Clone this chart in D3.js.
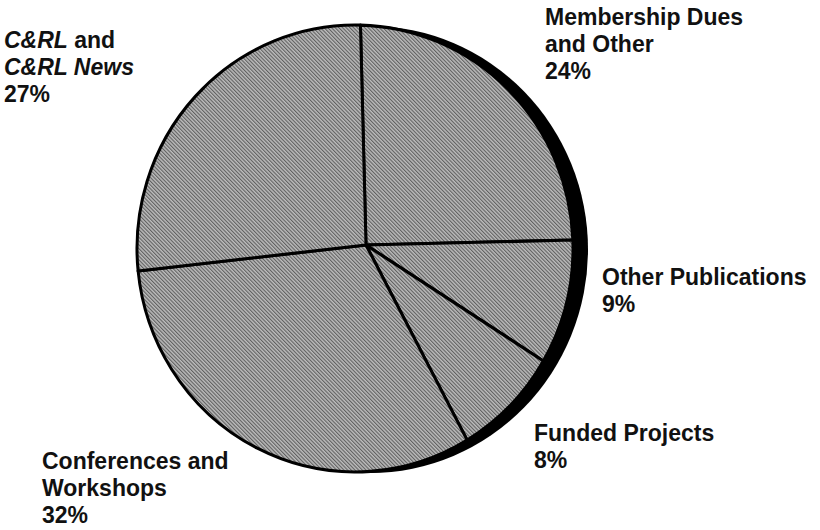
<!DOCTYPE html>
<html>
<head>
<meta charset="utf-8">
<script src="https://cdn.jsdelivr.net/npm/d3@7"></script>
<style>
  body { margin: 0; background: #fff; }
  text { font-family: "Liberation Sans", Arial, sans-serif; font-weight: bold; fill: #111; }
</style>
</head>
<body>
<svg id="chart" width="820" height="530"></svg>
<script>
// Budget shares, clockwise from 12 o'clock
const categories = ["Membership Dues and Other", "Other Publications", "Funded Projects", "Conferences and Workshops", "C&RL and C&RL News"];
const shares = [24, 9, 8, 32, 27];
// label text, one array per line, segments flagged italic
const labelLines = [
  [[{t: "Membership Dues"}], [{t: "and Other"}]],
  [[{t: "Other Publications"}]],
  [[{t: "Funded Projects"}]],
  [[{t: "Conferences and"}], [{t: "Workshops"}]],
  [[{t: "C&RL", i: true}, {t: " and"}], [{t: "C&RL News", i: true}]]
];

// layout
const cx = 355, cy = 248.5, r = 218, yStretch = 1.025;
const hub = {x: 366, y: 245};            // where the slice edges meet in the original
const shadow = {dx: 15, dy: 1};
const lineHeight = 27;
const labelPos = [
  {x: 545, y: 25}, {x: 602, y: 285}, {x: 534, y: 441}, {x: 42, y: 469}, {x: 4, y: 48}
];

const svg = d3.select("#chart");

// hatched grey fill
const defs = svg.append("defs");
const pat = defs.append("pattern")
    .attr("id", "hatch")
    .attr("patternUnits", "userSpaceOnUse")
    .attr("width", 2.6).attr("height", 2.6)
    .attr("patternTransform", "rotate(-45)");
pat.append("rect").attr("width", 2.6).attr("height", 2.6).attr("fill", "#bcbcbc");
pat.append("rect").attr("width", 1.1).attr("height", 2.6).attr("fill", "#606060");

const pie = d3.pie().sort(null).startAngle(0.025).endAngle(0.025 + 2 * Math.PI);
const arcs = pie(shares);

const g = svg.append("g")
    .attr("transform", `translate(${cx},${cy}) scale(1,${yStretch})`);

// black drop shadow on the right
g.append("circle")
    .attr("cx", shadow.dx).attr("cy", shadow.dy)
    .attr("r", r)
    .attr("fill", "#000");

// slices: edges run from the hub to the rim at the pie angles
const hx = hub.x - cx, hy = (hub.y - cy) / yStretch;
function slicePath(d) {
  const p = d3.path();
  p.moveTo(hx, hy);
  p.lineTo(r * Math.sin(d.startAngle), -r * Math.cos(d.startAngle));
  p.arc(0, 0, r, d.startAngle - Math.PI / 2, d.endAngle - Math.PI / 2);
  p.closePath();
  return p.toString();
}

g.selectAll("path.slice")
    .data(arcs)
    .join("path")
    .attr("class", "slice")
    .attr("d", slicePath)
    .attr("fill", "url(#hatch)")
    .attr("stroke", "#000")
    .attr("stroke-width", 3)
    .attr("stroke-linejoin", "round");

// labels
const labels = svg.selectAll("g.label")
    .data(arcs)
    .join("g")
    .attr("class", "label")
    .attr("transform", (d, i) => `translate(${labelPos[i].x},${labelPos[i].y})`);

labels.each(function(d, i) {
  const el = d3.select(this);
  const lines = labelLines[i];
  lines.forEach((segs, j) => {
    const t = el.append("text")
        .attr("y", j * lineHeight)
        .style("font-size", "23px");
    segs.forEach(s => {
      t.append("tspan")
          .style("font-style", s.i ? "italic" : "normal")
          .text(s.t);
    });
  });
  el.append("text")
      .attr("y", lines.length * lineHeight)
      .style("font-size", "23px")
      .text(shares[i] + "%");
});
</script>
</body>
</html>
